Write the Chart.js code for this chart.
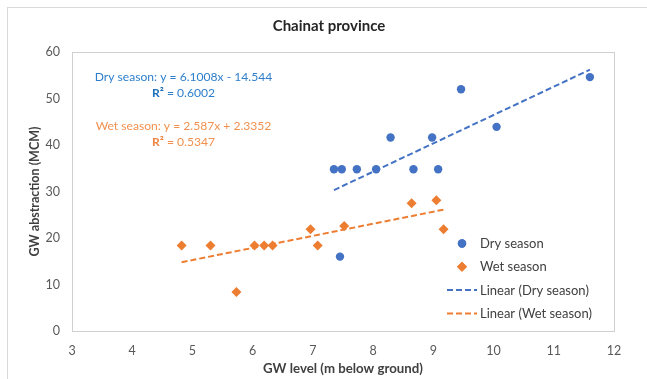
<!DOCTYPE html>
<html>
<head>
<meta charset="utf-8">
<script src="https://cdn.jsdelivr.net/npm/chart.js@4/dist/chart.umd.min.js"></script>
<style>
  html, body { margin: 0; padding: 0; background: #ffffff; }
  #wrap { width: 647px; height: 379px; position: relative; }
</style>
</head>
<body>
<div id="wrap"><canvas id="c" width="647" height="379"></canvas></div>
<script>
// ---- Data ----
const chartTitle = "Chainat province";
const xAxisTitle = "GW level (m below ground)";
const yAxisTitle = "GW abstraction (MCM)";

const drySeasonLabel = "Dry season";
const dryX = [7.35, 7.48, 7.73, 8.05, 8.29, 8.67, 8.98, 9.08, 9.46, 10.05, 11.6, 7.45];
const dryY = [34.8, 34.8, 34.8, 34.8, 41.6, 34.8, 41.6, 34.8, 52.0, 43.9, 54.6, 16.0];

const wetSeasonLabel = "Wet season";
const wetX = [4.82, 5.30, 5.73, 6.03, 6.19, 6.33, 6.96, 7.08, 7.52, 8.64, 9.05, 9.17];
const wetY = [18.4, 18.4, 8.4, 18.4, 18.4, 18.4, 21.9, 18.4, 22.6, 27.5, 28.1, 21.9];

const dryTrendLabel = "Linear (Dry season)";
const dryTrendX = [7.35, 11.6];
const dryTrendY = [30.3, 56.2];

const wetTrendLabel = "Linear (Wet season)";
const wetTrendX = [4.82, 9.17];
const wetTrendY = [14.8, 26.1];

const dryEquation = "Dry season: y = 6.1008x - 14.544";
const dryR2 = "0.6002";
const wetEquation = "Wet season: y = 2.587x + 2.3352";
const wetR2 = "0.5347";

const xTicks = [3, 4, 5, 6, 7, 8, 9, 10, 11, 12];
const yTicks = [0, 10, 20, 30, 40, 50, 60];

// ---- Build datasets ----
const pts = (xs, ys) => xs.map((x, i) => ({ x: x, y: ys[i] }));
const BLUE = "#4472C4", ORANGE = "#ED7D31";
const FONT = "Lato";

const datasets = [
  { label: drySeasonLabel, data: pts(dryX, dryY), showLine: false,
    pointStyle: "circle", pointRadius: 4.2, backgroundColor: BLUE, borderColor: BLUE, borderWidth: 0, pointBorderWidth: 0 },
  { label: wetSeasonLabel, data: pts(wetX, wetY), showLine: false,
    pointStyle: "rectRot", pointRadius: 5, backgroundColor: ORANGE, borderColor: ORANGE, borderWidth: 0, pointBorderWidth: 0 },
  { label: dryTrendLabel, data: pts(dryTrendX, dryTrendY), showLine: true, pointRadius: 0,
    borderColor: BLUE, backgroundColor: BLUE, borderWidth: 2, borderDash: [6, 3], fill: false },
  { label: wetTrendLabel, data: pts(wetTrendX, wetTrendY), showLine: true, pointRadius: 0,
    borderColor: ORANGE, backgroundColor: ORANGE, borderWidth: 2, borderDash: [6, 3], fill: false }
];

// ---- Plugins: frame, legend, equations ----
const framePlugin = {
  id: "frame",
  beforeDraw(chart) {
    const ctx = chart.ctx, a = chart.chartArea;
    ctx.save();
    ctx.fillStyle = "#ffffff";
    ctx.fillRect(0, 0, chart.width, chart.height);
    ctx.strokeStyle = "#d9d9d9";
    ctx.lineWidth = 1;
    ctx.strokeRect(7.5, 7.5, chart.width + 10, chart.height + 10);
    ctx.strokeStyle = "#d0d0d0";
    ctx.strokeRect(Math.round(a.left) + 0.5, Math.round(a.top) + 0.5,
                   Math.round(a.right - a.left), Math.round(a.bottom - a.top));
    ctx.restore();
  }
};

const legendPlugin = {
  id: "customLegend",
  afterDatasetsDraw(chart) {
    const ctx = chart.ctx, a = chart.chartArea;
    const textX = a.right - 134;
    const markX = textX - 18;
    const rowY0 = a.bottom - 87.5;
    const step = 23.3;
    ctx.save();
    ctx.font = "13px " + FONT;
    ctx.textBaseline = "middle";
    ctx.textAlign = "left";
    chart.data.datasets.forEach((ds, i) => {
      const y = rowY0 + i * step;
      ctx.fillStyle = ds.backgroundColor;
      ctx.strokeStyle = ds.borderColor;
      if (ds.showLine) {
        ctx.lineWidth = 2;
        ctx.setLineDash(ds.borderDash);
        ctx.beginPath();
        ctx.moveTo(markX - 15, y);
        ctx.lineTo(markX + 15, y);
        ctx.stroke();
        ctx.setLineDash([]);
      } else {
        Chart.helpers.drawPoint(ctx, { pointStyle: ds.pointStyle, radius: ds.pointRadius, borderWidth: 0 }, markX, y);
        ctx.fill();
      }
      ctx.fillStyle = "#404040";
      ctx.fillText(ds.label, textX, y + 0.5);
    });
    ctx.restore();
  }
};

function drawEq(ctx, cx, y, eq, r2, color, r2color) {
  const F = "12.1px " + FONT, FB = "bold 12.1px " + FONT;
  ctx.font = F;
  ctx.textAlign = "center";
  ctx.fillStyle = color;
  ctx.fillText(eq, cx, y);
  ctx.font = FB;
  const r2lbl = "R\u00B2";
  const w1 = ctx.measureText(r2lbl).width;
  ctx.font = F;
  const rest = " = " + r2;
  const w2 = ctx.measureText(rest).width;
  const start = cx - (w1 + w2) / 2;
  ctx.textAlign = "left";
  ctx.font = FB;
  ctx.fillStyle = r2color;
  ctx.fillText(r2lbl, start, y + 16);
  ctx.font = F;
  ctx.fillStyle = color;
  ctx.fillText(rest, start + w1, y + 16);
}

const eqPlugin = {
  id: "equations",
  afterDatasetsDraw(chart) {
    const ctx = chart.ctx, a = chart.chartArea;
    ctx.save();
    ctx.textBaseline = "middle";
    const cx = a.left + 111.5;
    drawEq(ctx, cx, a.top + 25, dryEquation, dryR2, "#2E7FCB", "#1F6FB8");
    drawEq(ctx, cx, a.top + 74.5, wetEquation, wetR2, "#F2914F", "#EE8440");
    ctx.restore();
  }
};

Chart.defaults.font.family = FONT;
Chart.defaults.color = "#595959";

new Chart(document.getElementById("c"), {
  type: "scatter",
  data: { datasets: datasets },
  options: {
    responsive: false,
    animation: false,
    devicePixelRatio: 1,
    layout: { padding: { left: 44, right: 33, top: 0, bottom: 0 } },
    plugins: {
      legend: { display: false },
      tooltip: { enabled: false },
      title: {
        display: true,
        text: chartTitle,
        color: "#262626",
        font: { family: FONT, size: 15, weight: "bold" },
        padding: { top: 17.5, bottom: 16.5 }
      }
    },
    scales: {
      x: {
        type: "linear",
        min: xTicks[0], max: xTicks[xTicks.length - 1],
        afterBuildTicks(s) { s.ticks = xTicks.map(v => ({ value: v })); },
        afterFit(s) { s.height = 48; },
        grid: { display: false, drawTicks: false },
        border: { display: true, color: "#d0d0d0" },
        ticks: { padding: 12, font: { size: 12.5 }, color: "#595959" },
        title: { display: true, text: xAxisTitle, color: "#404040",
                 font: { size: 13.25, weight: "bold" }, padding: { top: 4, bottom: 2 } }
      },
      y: {
        type: "linear",
        min: yTicks[0], max: yTicks[yTicks.length - 1],
        afterBuildTicks(s) { s.ticks = yTicks.map(v => ({ value: v })); },
        afterFit(s) { s.width = 28; },
        grid: { display: false, drawTicks: false },
        border: { display: true, color: "#d0d0d0" },
        ticks: { padding: 12, font: { size: 12.5 }, color: "#595959" },
        title: { display: true, text: yAxisTitle, color: "#404040",
                 font: { size: 12.5, weight: "bold" }, padding: { top: -16.5, bottom: 4 } }
      }
    }
  },
  plugins: [framePlugin, legendPlugin, eqPlugin]
});
</script>
</body>
</html>
